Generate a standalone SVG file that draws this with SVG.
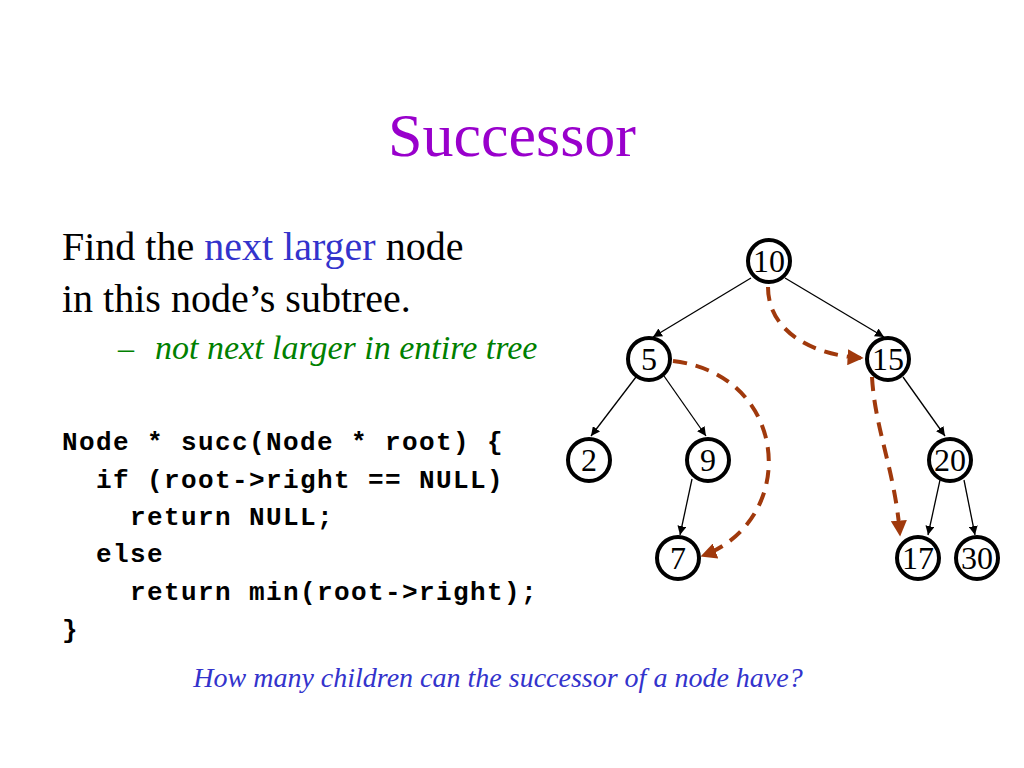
<svg xmlns="http://www.w3.org/2000/svg" width="1024" height="768" viewBox="0 0 1024 768">
<style>
.n circle{fill:#fff;stroke:#000;stroke-width:4}
.n text{font-family:"Liberation Serif",serif;font-size:32px;text-anchor:middle}
.e{stroke:#000;stroke-width:1.3;fill:none;marker-end:url(#a)}
.d{stroke:#a0390c;stroke-width:4;fill:none;stroke-dasharray:14 9;marker-end:url(#b)}
.t{font-family:"Liberation Serif",serif}
.c{font-family:"Liberation Mono",monospace;font-size:26px;font-weight:bold;letter-spacing:1.4px}
</style>
<defs>
<marker id="a" viewBox="0 0 10 10" refX="10" refY="5" markerWidth="9" markerHeight="9" orient="auto" markerUnits="userSpaceOnUse"><path d="M0,0L10,5L0,10z"/></marker>
<marker id="b" viewBox="0 0 10 10" refX="9" refY="5" markerWidth="4" markerHeight="4" orient="auto"><path d="M0,0L10,5L0,10z" fill="#a0390c"/></marker>
</defs>
<rect width="1024" height="768" fill="#fff"/>
<text x="512" y="156" class="t" font-size="62" fill="#9900cc" text-anchor="middle">Successor</text>
<text x="62" y="260" class="t" font-size="40">Find the <tspan fill="#3333cc">next larger</tspan> node</text>
<text x="62" y="312" class="t" font-size="40">in this node’s subtree.</text>
<text x="118" y="359" class="t" font-size="32" fill="#008000">–</text>
<text x="155" y="359" class="t" font-size="34" fill="#008000" font-style="italic">not next larger in entire tree</text>
<text class="c" xml:space="preserve"><tspan x="62" y="450">Node * succ(Node * root) {</tspan><tspan x="62" y="488">  if (root-&gt;right == NULL)</tspan><tspan x="62" y="525">    return NULL;</tspan><tspan x="62" y="562">  else</tspan><tspan x="62" y="600">    return min(root-&gt;right);</tspan><tspan x="62" y="638">}</tspan></text>
<text x="498" y="687" class="t" font-size="28" fill="#3333cc" font-style="italic" text-anchor="middle">How many children can the successor of a node have?</text>
<g id="connectors">
<line class="e" x1="751" y1="278" x2="653" y2="337"/>
<line class="e" x1="785" y1="278" x2="884" y2="337"/>
<line class="e" x1="636" y1="377" x2="591" y2="436"/>
<line class="e" x1="664" y1="376" x2="706" y2="436"/>
<line class="e" x1="903" y1="377" x2="945" y2="436"/>
<line class="e" x1="692" y1="479" x2="680" y2="535"/>
<line class="e" x1="940" y1="480" x2="928" y2="535"/>
<line class="e" x1="964" y1="480" x2="975" y2="535"/>
<path class="d" d="M768,287 C768,330 810,355 862,358"/>
<path class="d" d="M673,361 C790,375 800,520 702,556"/>
<path class="d" d="M872,377 C875,430 895,470 900,535"/>
</g>
<g id="n10" class="n"><circle cx="769" cy="261" r="21"/><text x="769" y="272">10</text></g>
<g id="n5" class="n"><circle cx="649" cy="359" r="21"/><text x="649" y="370">5</text></g>
<g id="n15" class="n"><circle cx="888" cy="359" r="21"/><text x="888" y="370">15</text></g>
<g id="n2" class="n"><circle cx="589" cy="460" r="21"/><text x="589" y="471">2</text></g>
<g id="n9" class="n"><circle cx="708" cy="460" r="21"/><text x="708" y="471">9</text></g>
<g id="n20" class="n"><circle cx="950" cy="460" r="21"/><text x="950" y="471">20</text></g>
<g id="n7" class="n"><circle cx="678" cy="558" r="21"/><text x="678" y="569">7</text></g>
<g id="n17" class="n"><circle cx="918" cy="558" r="21"/><text x="918" y="569">17</text></g>
<g id="n30" class="n"><circle cx="977" cy="558" r="21"/><text x="977" y="569">30</text></g>
</svg>
